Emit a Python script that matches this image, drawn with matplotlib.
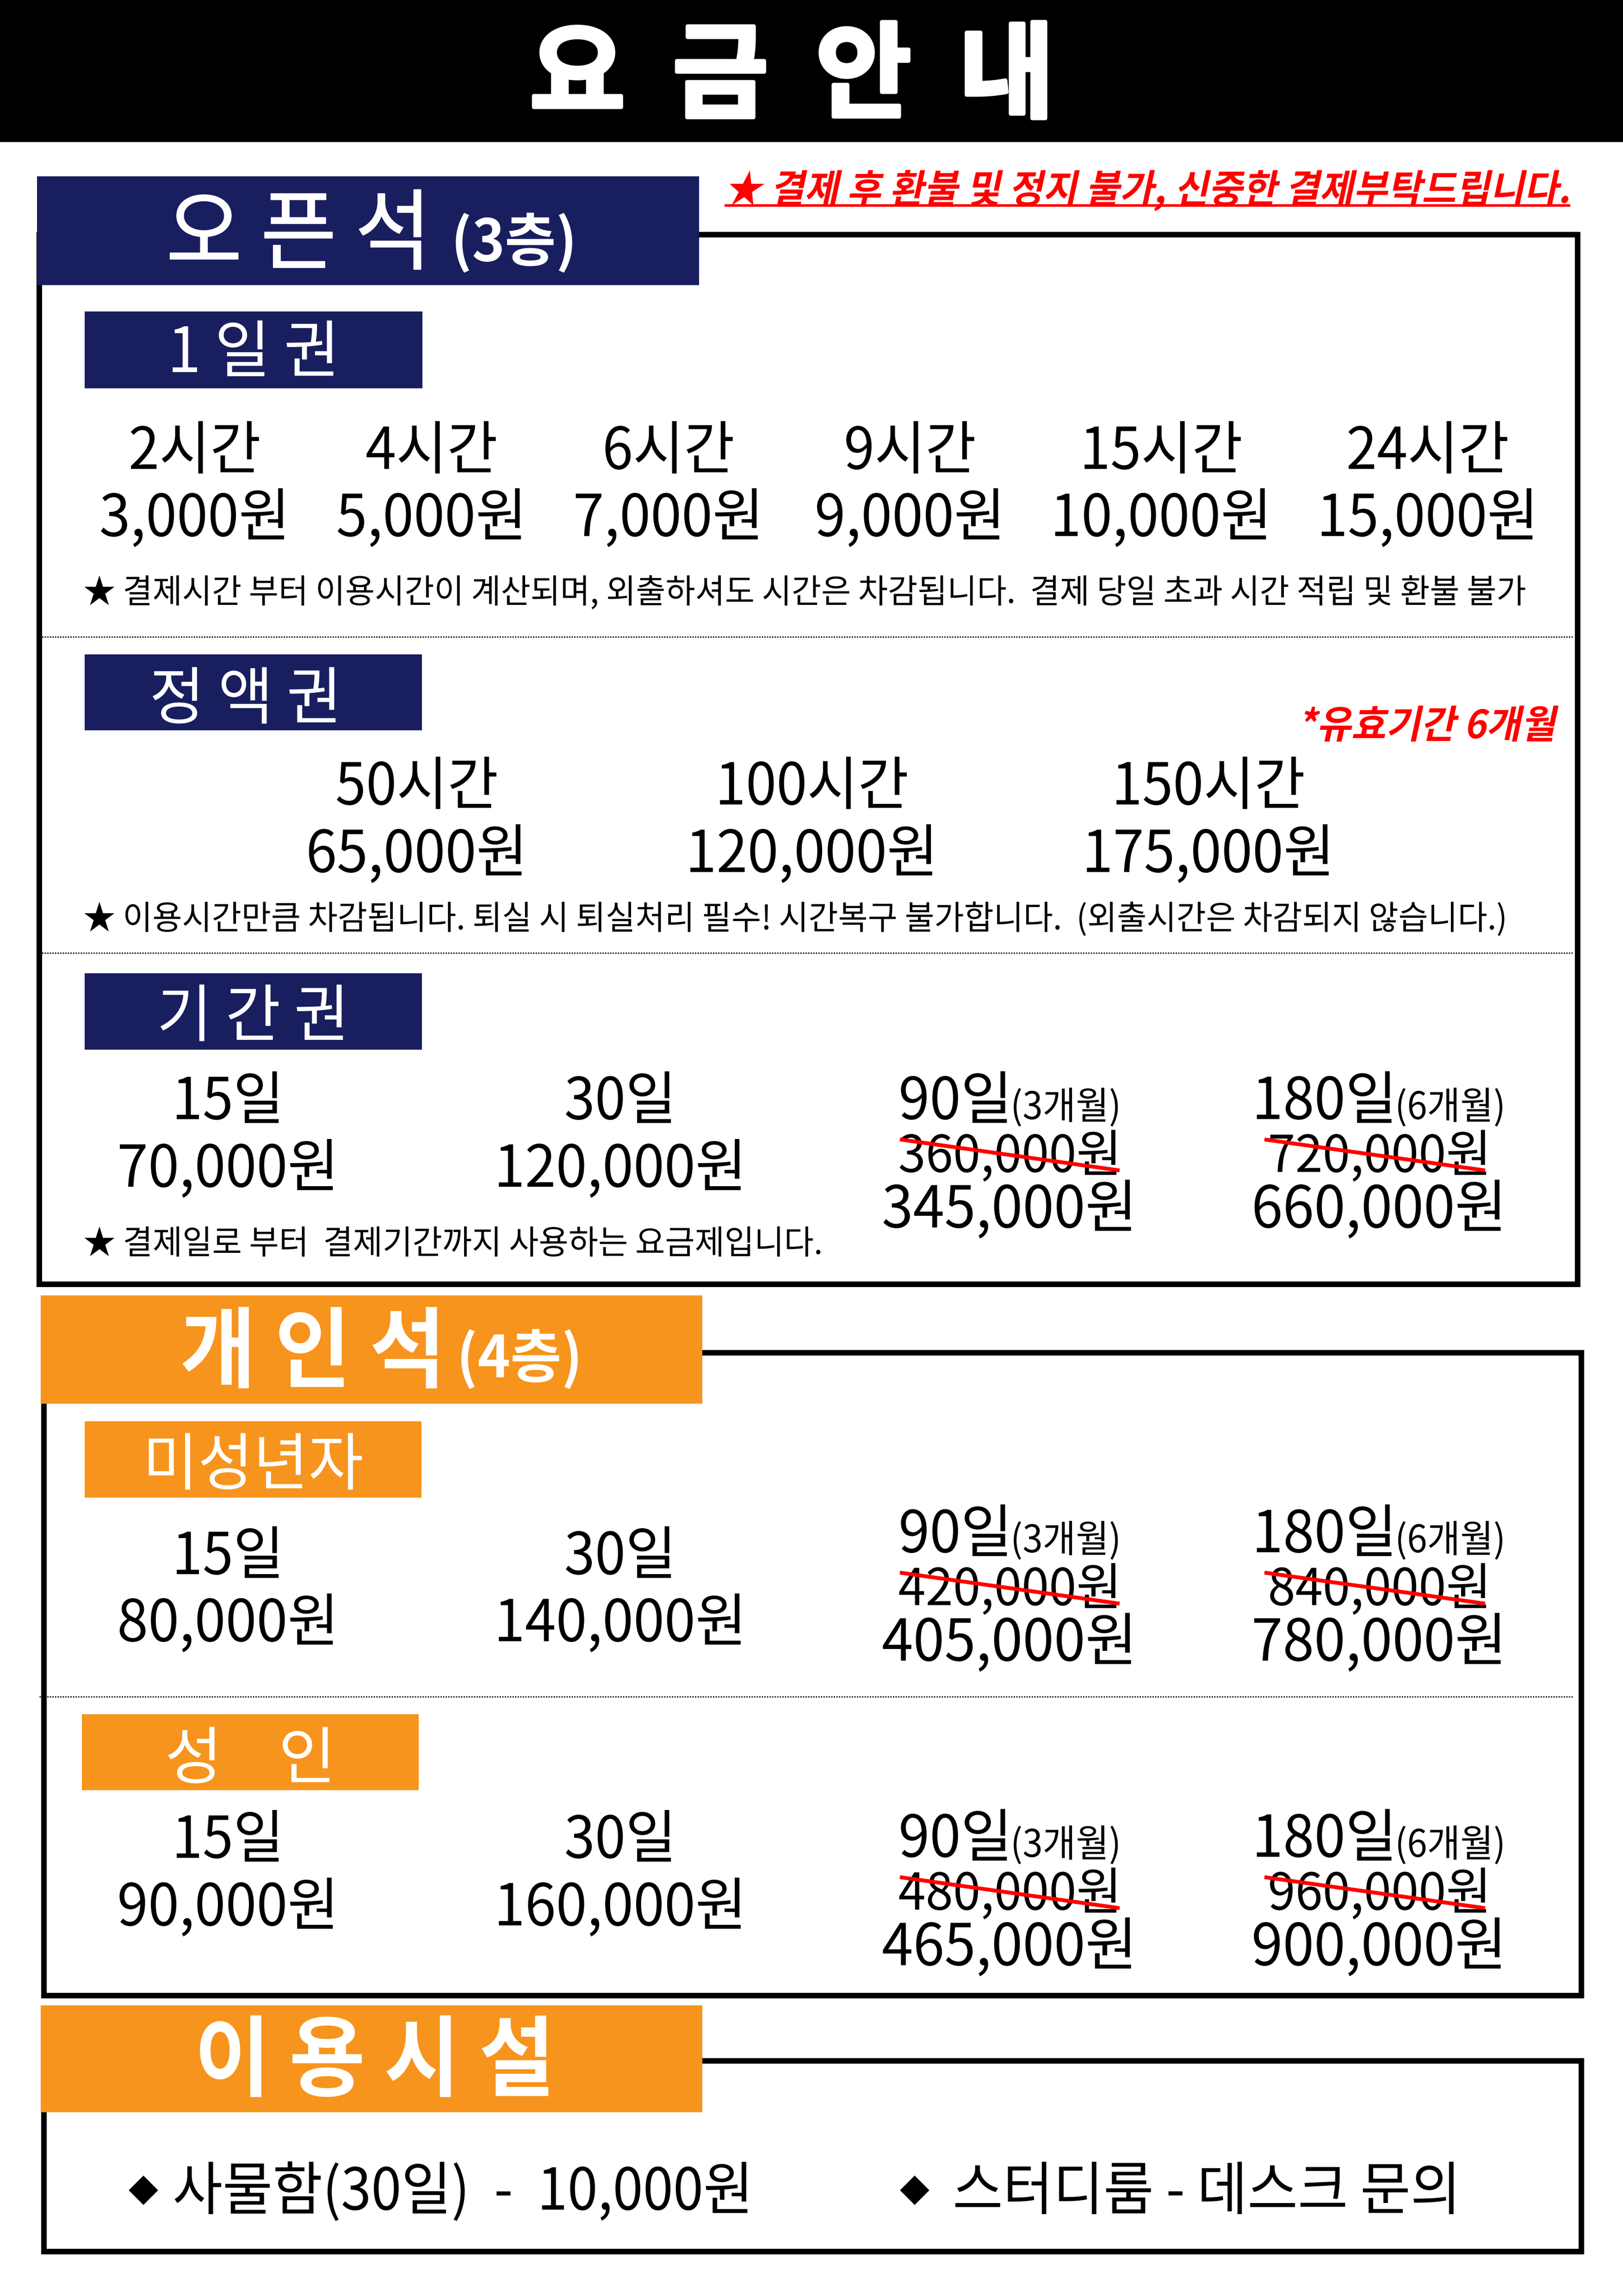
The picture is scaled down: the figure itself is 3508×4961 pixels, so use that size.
import matplotlib
matplotlib.use("Agg")
import matplotlib.pyplot as plt
from matplotlib.patches import Rectangle
from matplotlib.patheffects import AbstractPathEffect
from matplotlib.transforms import Affine2D

W, H = 3508, 4961
NAVY = "#191e5f"
ORANGE = "#f7941d"
RED = "#ff0000"

plt.rcParams['font.family'] = ['Noto Sans CJK KR', 'DejaVu Sans']

# 1일권
day_hours = ["2시간", "4시간", "6시간", "9시간", "15시간", "24시간"]
day_prices = ["3,000원", "5,000원", "7,000원", "9,000원", "10,000원", "15,000원"]
# 정액권
fixed_hours = ["50시간", "100시간", "150시간"]
fixed_prices = ["65,000원", "120,000원", "175,000원"]
# 기간권 / 미성년자 / 성인
short_days = ["15일", "30일"]
open_short = ["70,000원", "120,000원"]
open_old = ["360,000원", "720,000원"]
open_new = ["345,000원", "660,000원"]
minor_short = ["80,000원", "140,000원"]
minor_old = ["420,000원", "840,000원"]
minor_new = ["405,000원", "780,000원"]
adult_short = ["90,000원", "160,000원"]
adult_old = ["480,000원", "960,000원"]
adult_new = ["465,000원", "900,000원"]
long_days = ["90일", "180일"]
long_months = ["(3개월)", "(6개월)"]

note_refund = "★ 결제 후 환불 및 정지 불가, 신중한 결제부탁드립니다."
note_day = "★ 결제시간 부터 이용시간이 계산되며, 외출하셔도 시간은 차감됩니다.  결제 당일 초과 시간 적립 및 환불 불가"
note_fixed = "★ 이용시간만큼 차감됩니다. 퇴실 시 퇴실처리 필수! 시간복구 불가합니다.  (외출시간은 차감되지 않습니다.)"
note_period = "★ 결제일로 부터  결제기간까지 사용하는 요금제입니다."


class Squeeze(AbstractPathEffect):
    # 원본 글자가 좁고 이탤릭이 있어서 글자 모양을 직접 변형
    def __init__(self, sx=1.0, skew=0, anchor=0.5, fat=0):
        super().__init__()
        self.sx, self.skew, self.anchor, self.fat = sx, skew, anchor, fat

    def draw_path(self, renderer, gc, tpath, affine, rgbFace=None):
        a = tpath.get_extents().x1 * self.anchor
        t = Affine2D().translate(-a, 0).scale(self.sx, 1).translate(a, 0).skew_deg(self.skew, 0)
        gc0 = renderer.new_gc()
        gc0.copy_properties(gc)
        if self.fat:
            gc0.set_linewidth(self.fat)
            gc0.set_foreground(rgbFace)
        renderer.draw_path(gc0, tpath, t + affine, rgbFace)
        gc0.restore()


fig = plt.figure(figsize=(W / 100, H / 100), dpi=100)
ax = fig.add_axes([0, 0, 1, 1])
ax.set_xlim(0, W)
ax.set_ylim(H, 0)
ax.axis("off")


def put(x, y, s, size, ha="center", va="center", color="black", weight="light", sx=1.0, skew=0, fat=0):
    anchor = {"left": 0, "center": 0.5, "right": 1}[ha]
    return ax.text(x, y, s, fontsize=size * 0.72, ha=ha, va=va, color=color, weight=weight,
                   path_effects=[Squeeze(sx, skew, anchor, fat)], zorder=3)


def rect(x0, y0, x1, y1, color, z=2):
    ax.add_patch(Rectangle((x0, y0), x1 - x0, y1 - y0, fc=color, ec="none", zorder=z))


def frame(x0, y0, x1, y1, lw=12):
    ax.add_patch(Rectangle((x0, y0), x1 - x0, y1 - y0, fc="none", ec="black", lw=lw * 0.72, zorder=1))


def dots(y, x0=85, x1=3400):
    ax.plot([x0, x1], [y, y], color="black", lw=2.0, ls=(0, (1, 1)), zorder=1)


def two_rows(xs, ys, top, bottom, size=125):
    for x, a, b in zip(xs, top, bottom):
        put(x, ys[0], a, size, sx=0.955)
        put(x, ys[1], b, size, sx=0.965)


def long_block(dy, old, new):
    # 90일 / 180일 칸은 정가에 빨간 줄
    xs = [1942, 2706]
    mx = [2184, 3015]
    cx = [2183, 2982]
    strike = [(1945, 2420), (2733, 3210)]
    for i in range(2):
        put(xs[i], 2418 + dy, long_days[i], 125, ha="left", va="baseline", sx=0.97)
        put(mx[i], 2418 + dy, long_months[i], 82, ha="left", va="baseline", sx=0.95)
        put(cx[i], 2501 + dy, old[i], 110, sx=0.97)
        put(cx[i] - 1, 2617 + dy, new[i], 125, sx=0.975)
        ax.plot(strike[i], [2462 + dy, 2529 + dy], color=RED, lw=6, zorder=4,
                solid_capstyle="butt")


# 제목
rect(0, 0, W, 307, "black")
put(1712, 170, "요  금  안  내", 225, color="white", weight="black", fat=6)

# 오픈석
frame(85, 507, 3410, 2775)
rect(80, 381, 1511, 616, NAVY)
put(359, 567, "오 픈 석", 190, ha="left", va="baseline", color="white", weight="medium", sx=0.94, fat=1.5)
put(975, 564, "(3층)", 125, ha="left", va="baseline", color="white", weight="bold", sx=0.96)
put(1566, 438, note_refund, 84, ha="left", va="baseline", color=RED, weight="bold", sx=0.955, skew=12)
ax.plot([1566, 3394], [444, 444], color=RED, lw=4, zorder=3, solid_capstyle="butt")

rect(183, 673, 913, 839, NAVY)
put(548, 766, "1 일 권", 135, color="white", sx=0.97)
two_rows([421, 933, 1445, 1967, 2510, 3086], [978, 1123], day_hours, day_prices)
put(180, 1282, note_day, 72, ha="left", sx=0.969)
dots(1376)

rect(183, 1414, 912, 1578, NAVY)
put(531, 1515, "정 액 권", 135, color="white", sx=0.96)
put(3362, 1595, "*유효기간 6개월", 84, ha="right", va="baseline", color=RED, weight="bold", sx=0.97, skew=12)
two_rows([901, 1755, 2612], [1703, 1849], fixed_hours, fixed_prices)
put(180, 1987, note_fixed, 72, ha="left", sx=0.968)
dots(2059)

rect(183, 2103, 912, 2268, NAVY)
put(547, 2201, "기 간 권", 135, color="white", sx=0.96)
two_rows([493, 1341], [2383, 2529], short_days, open_short)
long_block(0, open_old, open_new)
put(180, 2689, note_period, 72, ha="left", sx=0.971)

# 개인석
frame(95, 2923, 3418, 4312)
rect(88, 2799, 1518, 3033, ORANGE)
put(389, 2983, "개 인 석", 190, ha="left", va="baseline", color="white", weight="bold", sx=0.94)
put(987, 2976, "(4층)", 125, ha="left", va="baseline", color="white", weight="bold", sx=0.96)

rect(183, 3071, 911, 3236, ORANGE)
put(547, 3170, "미성년자", 135, color="white", sx=0.96)
two_rows([493, 1341], [3366, 3511], short_days, minor_short)
long_block(936, minor_old, minor_new)
dots(3666)

rect(177, 3704, 905, 3868, ORANGE)
put(541, 3805, "성    인", 135, color="white")
two_rows([493, 1341], [3979, 4125], short_days, adult_short)
long_block(1594, adult_old, adult_new)

# 이용시설
frame(95, 4453, 3418, 4865)
rect(88, 4333, 1518, 4564, ORANGE)
put(810, 4459, "이 용 시 설", 190, color="white", weight="bold", sx=0.94)
put(310, 4739, "◆", 65)
put(373, 4739, "사물함(30일)  -  10,000원", 125, ha="left", sx=0.94)
put(1977, 4739, "◆", 65)
put(2059, 4739, "스터디룸 - 데스크 문의", 125, ha="left", sx=0.945)

fig.savefig("out.png", dpi=100)
